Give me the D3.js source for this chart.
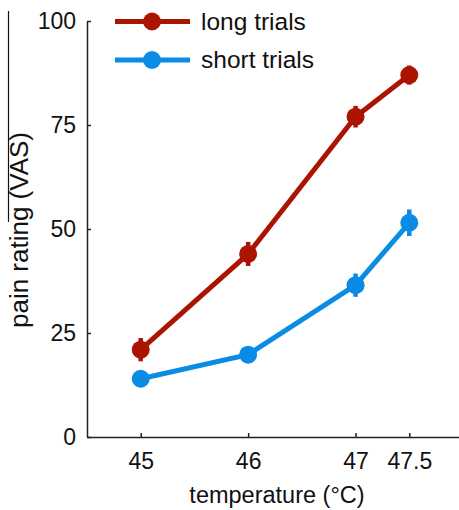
<!DOCTYPE html>
<html>
<head>
<meta charset="utf-8">
<script src="https://cdn.jsdelivr.net/npm/d3@7"></script>
<style>
  body { margin: 0; background: #fff; }
  svg { font-family: "Liberation Sans", Arial, sans-serif; }
</style>
</head>
<body>
<svg id="chart" width="459" height="510"></svg>
<script>
const temps = [45, 46, 47, 47.5];
const longMean = [21, 44, 77, 87];
const longErr = [2.8, 2.9, 2.6, 2.3];
const shortMean = [14, 19.8, 36.5, 51.5];
const shortErr = [1, 1.5, 2.8, 3.2];
const yTicks = [0, 25, 50, 75, 100];
const seriesNames = ["long trials", "short trials"];
const colors = ["#aa1400", "#0b8ce4"];

const svg = d3.select("#chart");

const x = d3.scaleLinear().domain([44.5, 48]).range([87, 463]);
const y = d3.scaleLinear().domain([0, 100]).range([437, 21]);

// axes, ticks pointing inward
const yAxis = svg.append("g")
  .attr("transform", "translate(87,0)")
  .call(d3.axisLeft(y).tickValues(yTicks).tickSizeInner(-4).tickSizeOuter(0).tickPadding(11));
yAxis.select(".domain").attr("stroke", "#222").attr("stroke-width", 1.5);
yAxis.selectAll(".tick line").attr("stroke", "#222").attr("stroke-width", 1.5);
yAxis.selectAll("text").attr("font-size", 23).attr("fill", "#111");

const xAxis = svg.append("g")
  .attr("transform", "translate(0,437)")
  .call(d3.axisBottom(x).tickValues(temps).tickFormat(d3.format("")).tickSizeInner(-4).tickSizeOuter(0).tickPadding(16));
xAxis.select(".domain").attr("stroke", "#222").attr("stroke-width", 1.5);
xAxis.selectAll(".tick line").attr("stroke", "#222").attr("stroke-width", 1.5);
xAxis.selectAll("text").attr("font-size", 23).attr("fill", "#111");

// axis labels
svg.append("text")
  .attr("x", 277).attr("y", 503)
  .attr("text-anchor", "middle").attr("font-size", 23.5).attr("fill", "#111")
  .text("temperature (°C)");
svg.append("text")
  .attr("transform", "translate(28,230) rotate(-90)")
  .attr("text-anchor", "middle").attr("font-size", 26).attr("fill", "#111")
  .text("pain rating (VAS)");

// stray vertical rule at far left
svg.append("line")
  .attr("x1", 8.5).attr("x2", 8.5).attr("y1", 11).attr("y2", 222)
  .attr("stroke", "#111").attr("stroke-width", 1.2);

const series = [
  { name: seriesNames[0], mean: longMean, err: longErr, color: colors[0] },
  { name: seriesNames[1], mean: shortMean, err: shortErr, color: colors[1] }
];

const line = d3.line().x(d => x(d.t)).y(d => y(d.m));

series.forEach(s => {
  const pts = temps.map((t, i) => ({ t, m: s.mean[i], e: s.err[i] }));
  const g = svg.append("g");
  g.append("path")
    .datum(pts)
    .attr("d", line)
    .attr("fill", "none")
    .attr("stroke", s.color)
    .attr("stroke-width", 5);
  g.selectAll("line.err")
    .data(pts)
    .join("line")
    .attr("x1", d => x(d.t)).attr("x2", d => x(d.t))
    .attr("y1", d => y(d.m - d.e)).attr("y2", d => y(d.m + d.e))
    .attr("stroke", s.color).attr("stroke-width", 4.5);
  g.selectAll("circle")
    .data(pts)
    .join("circle")
    .attr("cx", d => x(d.t)).attr("cy", d => y(d.m))
    .attr("r", 9)
    .attr("fill", s.color);
});

// legend
const legend = svg.append("g");
series.forEach((s, i) => {
  const ly = 21.5 + i * 38.5;
  legend.append("line")
    .attr("x1", 115).attr("x2", 190).attr("y1", ly).attr("y2", ly)
    .attr("stroke", s.color).attr("stroke-width", 5);
  legend.append("circle")
    .attr("cx", 152).attr("cy", ly).attr("r", 9)
    .attr("fill", s.color);
  legend.append("text")
    .attr("x", 201).attr("y", ly + 8)
    .attr("font-size", 24.5).attr("fill", "#111")
    .text(s.name);
});
</script>
</body>
</html>
